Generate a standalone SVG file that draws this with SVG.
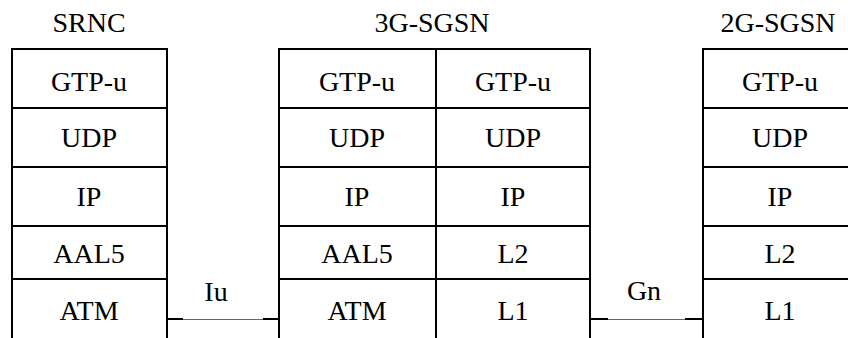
<svg xmlns="http://www.w3.org/2000/svg" width="848" height="338" viewBox="0 0 848 338">
<style>
.box{fill:none;stroke:#000;stroke-width:2}
.ln{stroke:#000;stroke-width:2}
.t{font-family:"Liberation Serif","Times New Roman",serif;font-size:28px;fill:#000;text-anchor:middle}
.thin{stroke:#666;stroke-width:1.2}
</style>
<rect width="848" height="338" fill="#fff"/>
<g id="srnc">
<text class="t" x="89" y="32">SRNC</text>
<rect class="box" x="12" y="49" width="155" height="300"/>
<line class="ln" x1="12" y1="108" x2="167" y2="108"/>
<line class="ln" x1="12" y1="167" x2="167" y2="167"/>
<line class="ln" x1="12" y1="226" x2="167" y2="226"/>
<line class="ln" x1="12" y1="279" x2="167" y2="279"/>
<text class="t" x="89" y="91">GTP-u</text>
<text class="t" x="89" y="147">UDP</text>
<text class="t" x="89" y="206">IP</text>
<text class="t" x="89" y="263">AAL5</text>
<text class="t" x="89" y="320">ATM</text>
</g>
<g id="sgsn3g">
<text class="t" x="432" y="32">3G-SGSN</text>
<rect class="box" x="279" y="49" width="311" height="300"/>
<line class="ln" x1="436" y1="49" x2="436" y2="338"/>
<line class="ln" x1="279" y1="108" x2="590" y2="108"/>
<line class="ln" x1="279" y1="167" x2="590" y2="167"/>
<line class="ln" x1="279" y1="226" x2="590" y2="226"/>
<line class="ln" x1="279" y1="279" x2="590" y2="279"/>
<text class="t" x="357" y="91">GTP-u</text>
<text class="t" x="357" y="147">UDP</text>
<text class="t" x="357" y="206">IP</text>
<text class="t" x="357" y="263">AAL5</text>
<text class="t" x="357" y="320">ATM</text>
<text class="t" x="513" y="91">GTP-u</text>
<text class="t" x="513" y="147">UDP</text>
<text class="t" x="513" y="206">IP</text>
<text class="t" x="513" y="263">L2</text>
<text class="t" x="513" y="320">L1</text>
</g>
<g id="sgsn2g">
<text class="t" x="778" y="32">2G-SGSN</text>
<rect class="box" x="703" y="49" width="160" height="300"/>
<line class="ln" x1="703" y1="108" x2="848" y2="108"/>
<line class="ln" x1="703" y1="167" x2="848" y2="167"/>
<line class="ln" x1="703" y1="226" x2="848" y2="226"/>
<line class="ln" x1="703" y1="279" x2="848" y2="279"/>
<text class="t" x="780" y="91">GTP-u</text>
<text class="t" x="780" y="147">UDP</text>
<text class="t" x="780" y="206">IP</text>
<text class="t" x="780" y="263">L2</text>
<text class="t" x="780" y="320">L1</text>
</g>
<g id="connectors">
<g id="iu">
<line class="thin" x1="167" y1="319.5" x2="279" y2="319.5"/>
<line class="ln" x1="166" y1="319" x2="183" y2="319"/>
<line class="ln" x1="263" y1="319" x2="279" y2="319"/>
<text class="t" x="216" y="301">Iu</text>
</g>
<g id="gn">
<line class="thin" x1="590" y1="319.5" x2="703" y2="319.5"/>
<line class="ln" x1="589" y1="319" x2="608" y2="319"/>
<line class="ln" x1="685" y1="319" x2="703" y2="319"/>
<text class="t" x="644" y="300">Gn</text>
</g>
</g>
</svg>
